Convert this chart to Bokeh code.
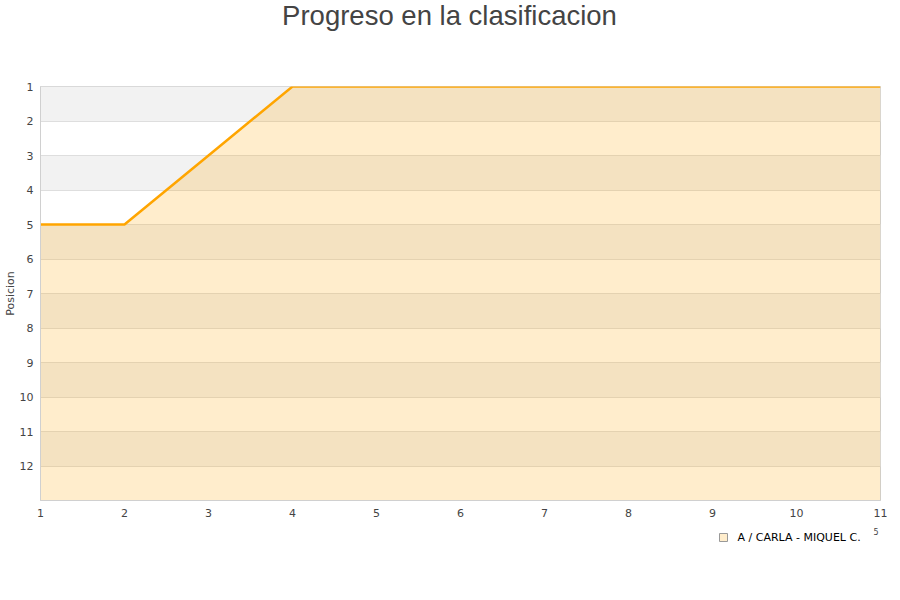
from bokeh.plotting import figure
from bokeh.layouts import column
from bokeh.models import Range1d, FixedTicker
from bokeh.core.properties import value
from bokeh.embed import file_html
from bokeh.resources import INLINE

# Jornadas and league position for the team
jornadas = [1, 2, 3, 4, 5, 6, 7, 8, 9, 10, 11]
posicion = [5, 5, 3, 1, 1, 1, 1, 1, 1, 1, 1]
equipo = "A / CARLA - MIQUEL C."
titulo = "Progreso en la clasificacion"
y_ticks = list(range(1, 14))
n_equipos = 13
filas_sombreadas = [1, 3, 5, 7, 9, 11]


def strip(height):
    """Blank figure used for text around the chart, in pixel coordinates."""
    f = figure(width=900, height=height, output_backend="svg", toolbar_location=None,
               x_range=Range1d(40, 880), y_range=Range1d(height, 0),
               min_border_left=40, min_border_right=20, min_border_top=0,
               min_border_bottom=0, outline_line_color=None)
    f.axis.visible = False
    f.grid.visible = False
    return f


# title strip
top = strip(70)
top.text(x=[449], y=[15], text=[titulo], text_font=value("Liberation Sans"),
         text_font_size="27.5px", text_color="#444444", text_align="center",
         text_baseline="middle")

# main chart
p = figure(width=900, height=455, output_backend="svg", toolbar_location=None,
           x_range=Range1d(1, 11), y_range=Range1d(n_equipos, 1),
           min_border_left=40, min_border_right=20, min_border_top=16,
           min_border_bottom=25)
p.outline_line_color = "#d0d0d0"
p.background_fill_color = "white"

p.xaxis.ticker = FixedTicker(ticks=jornadas)
p.yaxis.ticker = FixedTicker(ticks=y_ticks)
p.yaxis.major_label_overrides = {n_equipos: ""}
for ax in (p.xaxis[0], p.yaxis[0]):
    ax.major_tick_line_color = None
    ax.minor_tick_line_color = None
    ax.major_tick_out = 0
    ax.major_tick_in = 0
    ax.minor_tick_out = 0
    ax.minor_tick_in = 0
    ax.axis_line_color = "#d0d0d0"
    ax.major_label_text_font = "DejaVu Sans"
    ax.major_label_text_font_size = "11px"
    ax.major_label_text_color = "#444444"
p.xaxis.major_label_standoff = 8
p.yaxis.major_label_standoff = 7
p.yaxis.axis_label = "Posicion"
p.yaxis.axis_label_text_font = "DejaVu Sans"
p.yaxis.axis_label_text_font_size = "11px"
p.yaxis.axis_label_text_font_style = "normal"
p.yaxis.axis_label_text_color = "#444444"
p.yaxis.axis_label_standoff = 0

p.xgrid.grid_line_color = None
p.ygrid.ticker = FixedTicker(ticks=y_ticks)
p.ygrid.grid_line_color = "#dedede"

# alternating shaded rows, drawn beneath the grid lines
p.quad(top=filas_sombreadas, bottom=[r + 1 for r in filas_sombreadas],
       left=p.x_range.start, right=p.x_range.end,
       fill_color="#f2f2f2", line_color=None, level="image")

# filled area below the position line
p.varea(x=jornadas, y1=posicion, y2=[n_equipos] * len(jornadas),
        fill_color="#FFA500", fill_alpha=0.2)
p.line(x=jornadas, y=posicion, line_color="#FFA500", line_width=2.5)

# legend strip
leg = strip(75)
leg.scatter(x=[723], y=[12], marker="square", size=8,
            fill_color="#FFEDCC", line_color="#999999", line_width=1)
leg.text(x=[737], y=[12], text=[equipo], text_font=value("DejaVu Sans"),
         text_font_size="11px", text_color="#000000", text_baseline="middle")
leg.text(x=[873], y=[6], text=["5"], text_font=value("DejaVu Sans"),
         text_font_size="8px", text_color="#444444", text_baseline="middle")

open("out.html", "w").write(file_html(column(top, p, leg, spacing=0), INLINE))
